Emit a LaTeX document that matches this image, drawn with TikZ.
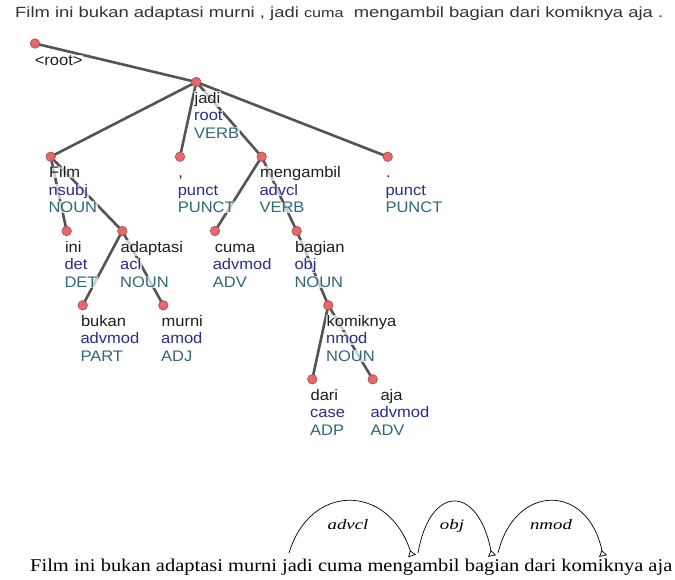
\documentclass[tikz,border=0pt]{standalone}
\usepackage{fontspec}
\setmainfont{Liberation Sans}
\newfontfamily\tnr{Liberation Serif}
\usepackage{graphicx}
\usetikzlibrary{arrows.meta,calc,backgrounds}
\definecolor{edgecol}{HTML}{545454}
\definecolor{dotfill}{HTML}{E8676B}
\definecolor{dotline}{HTML}{A84A4A}
\definecolor{wordcol}{HTML}{1E1E1E}
\definecolor{relcol}{HTML}{2C2C8E}
\definecolor{poscol}{HTML}{2F6876}
\definecolor{topcol}{HTML}{333333}
\tikzset{
  tokdot/.style={circle,fill=dotfill,draw=dotline,line width=0.6pt,inner sep=0pt,minimum size=9.5pt},
  treeedge/.style={draw=edgecol,line width=2.6pt},
  lab/.style={inner sep=0.6pt,font=\fontsize{15.3}{17}\selectfont,fill=white,fill opacity=0.7,text opacity=1,anchor=base west},
  arcline/.style={line width=0.7pt,-{Triangle[open,reversed,width=8pt,length=6pt,line width=0.7pt]}},
  arclab/.style={font=\tnr\itshape\fontsize{14.5}{16}\selectfont,inner sep=0pt,anchor=base}
}
\newcommand\lx[1]{\scalebox{1.08}[1]{#1}}
\newcommand\toklabel[5]{%
  \node[lab,text=wordcol] (#1w) at ($(#1)+(#2,21)$) {\lx{#3}};
  \node[lab,text=relcol] (#1r) at ($(#1)+(-3,38.5)$) {\lx{#4}};
  \node[lab,text=poscol] (#1p) at ($(#1)+(-3,56)$) {\lx{#5}};
}
\begin{document}
\begin{tikzpicture}[x=1pt,y=-1pt]
\useasboundingbox (0,0) rectangle (675,579);

% top sentence
\node[anchor=base west,inner sep=0pt,text=topcol,font=\fontsize{14.8}{17}\selectfont] (sent) at (15,17.8)
  {\resizebox{648pt}{\height}{Film ini bukan adaptasi murni , jadi {\fontsize{13}{15}\selectfont cuma}\ \ mengambil bagian dari komiknya aja .}};

% token dots
\node[tokdot] (root) at (35,43.5) {};
\node[tokdot] (jadi) at (196.3,82) {};
\node[tokdot] (film) at (50.7,156.7) {};
\node[tokdot] (comma) at (180,156.7) {};
\node[tokdot] (meng) at (261.7,156.7) {};
\node[tokdot] (stop) at (387.7,156.7) {};
\node[tokdot] (ini) at (66.7,231) {};
\node[tokdot] (adap) at (122.3,231) {};
\node[tokdot] (cuma) at (215,231) {};
\node[tokdot] (bagian) at (296.7,231) {};
\node[tokdot] (bukan) at (82.7,305.3) {};
\node[tokdot] (murni) at (163.3,305.3) {};
\node[tokdot] (komik) at (328.3,305.3) {};
\node[tokdot] (dari) at (312.3,379.3) {};
\node[tokdot] (aja) at (372.7,379.3) {};

% tree edges
\begin{scope}[on background layer]
  \fill[white] (0,0) rectangle (675,579);
  \draw[treeedge] (root.center) -- (jadi.center);
  \draw[treeedge] (jadi.center) -- (film.center);
  \draw[treeedge] (jadi.center) -- (comma.center);
  \draw[treeedge] (jadi.center) -- (meng.center);
  \draw[treeedge] (jadi.center) -- (stop.center);
  \draw[treeedge] (film.center) -- (ini.center);
  \draw[treeedge] (film.center) -- (adap.center);
  \draw[treeedge] (adap.center) -- (bukan.center);
  \draw[treeedge] (adap.center) -- (murni.center);
  \draw[treeedge] (meng.center) -- (cuma.center);
  \draw[treeedge] (meng.center) -- (bagian.center);
  \draw[treeedge] (bagian.center) -- (komik.center);
  \draw[treeedge] (komik.center) -- (dari.center);
  \draw[treeedge] (komik.center) -- (aja.center);
\end{scope}

% labels
\node[lab,text=wordcol] (rootw) at ($(root)+(-1,22)$) {\lx{<root>}};
\toklabel{jadi}{-2.5}{jadi}{root}{VERB}
\toklabel{film}{-2.5}{Film}{nsubj}{NOUN}
\toklabel{comma}{-2.5}{,}{punct}{PUNCT}
\toklabel{meng}{-2.5}{mengambil}{advcl}{VERB}
\toklabel{stop}{-2.5}{.}{punct}{PUNCT}
\toklabel{ini}{-2.5}{ini}{det}{DET}
\toklabel{adap}{-2.5}{adaptasi}{acl}{NOUN}
\toklabel{cuma}{-1}{cuma}{advmod}{ADV}
\toklabel{bagian}{-2.5}{bagian}{obj}{NOUN}
\toklabel{bukan}{-2.5}{bukan}{advmod}{PART}
\toklabel{murni}{-2.5}{murni}{amod}{ADJ}
\toklabel{komik}{-2.5}{komiknya}{nmod}{NOUN}
\toklabel{dari}{-2.5}{dari}{case}{ADP}
\toklabel{aja}{7}{aja}{advmod}{ADV}

% bottom sentence
\node[anchor=base west,inner sep=0pt,font=\tnr\fontsize{18}{20}\selectfont] (bsent) at (30,571)
  {\resizebox{642pt}{\height}{Film ini bukan adaptasi murni jadi cuma mengambil bagian dari komiknya aja}};

% arcs
\coordinate (a1s) at (289,553);
\coordinate (a1e) at (412,556);
\coordinate (a2s) at (418,553);
\coordinate (a2e) at (492,556);
\coordinate (a3s) at (498,553);
\coordinate (a3e) at (603,556);
\draw[arcline] (a1s) .. controls (310,483) and (388,483) .. (a1e);
\draw[arcline] (a2s) .. controls (430,484) and (478,484) .. (a2e);
\draw[arcline] (a3s) .. controls (515,483) and (588,483) .. (a3e);
\node[arclab] (l1) at (348,529) {\scalebox{1.3}[1]{advcl}};
\node[arclab] (l2) at (452,529) {\scalebox{1.3}[1]{obj}};
\node[arclab] (l3) at (551,529) {\scalebox{1.3}[1]{nmod}};
\end{tikzpicture}
\end{document}
